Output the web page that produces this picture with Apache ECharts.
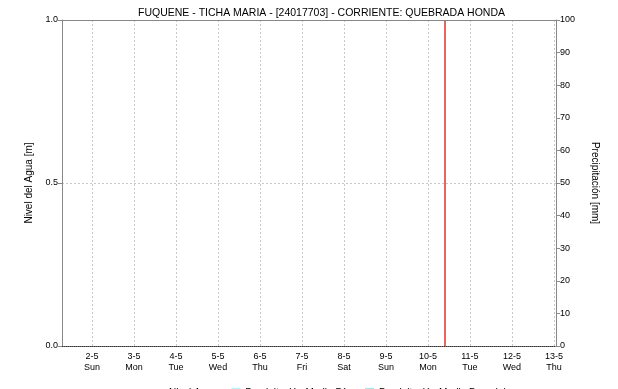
<!DOCTYPE html>
<html><head><meta charset="utf-8">
<script src="https://cdn.jsdelivr.net/npm/echarts@6/dist/echarts.min.js"></script>
<style>html,body{margin:0;padding:0;background:#fff}#c{width:618px;height:389px}</style>
</head><body><div id="c"></div>
<script>
var title = 'FUQUENE - TICHA MARIA - [24017703] - CORRIENTE: QUEBRADA HONDA';
var dayNames = ['Sun','Mon','Tue','Wed','Thu','Fri','Sat'];
// x values: days since 2021-05-01 00:00
var baseDate = [2021, 4, 1];
var xMin = 0.286;
var xMax = 12.05;
var dayTicks = [1, 2, 3, 4, 5, 6, 7, 8, 9, 10, 11, 12];
var markerDay = 9.405;
var nivelAgua = [];
var precipDia = [];
var precipDecadal = [];
var leftTicks = [0, 0.5, 1];
var rightTicks = [0, 10, 20, 30, 40, 50, 60, 70, 80, 90, 100];
var font = 'Liberation Sans';
var chart = echarts.init(document.getElementById('c'));
chart.setOption({
  animation:false,
  title:{text:title,left:133,top:3,textStyle:{fontFamily:font,fontSize:10.5,fontWeight:'normal',color:'#000'}},
  legend:{top:383,left:150,itemWidth:9,itemHeight:9,itemGap:14,textStyle:{fontFamily:font,fontSize:10,color:'#000'},
    data:[{name:'Nivel Agua',icon:'path://M0,4h10v1h-10z'},{name:'Precipitación Media Día',icon:'rect'},{name:'Precipitación Media Decadal',icon:'rect'}]},
  grid:{left:62,right:62,top:20,bottom:43},
  xAxis:{type:'value',min:xMin,max:xMax,
    axisLine:{show:true,lineStyle:{color:'#333',type:[1,1],width:1}},
    axisTick:{show:false,customValues:dayTicks},
    axisLabel:{fontFamily:font,fontSize:9,color:'#000',lineHeight:11,margin:5,customValues:dayTicks,
      formatter:function(v){var t=new Date(baseDate[0],baseDate[1],baseDate[2]+Math.round(v));return t.getDate()+'-'+(t.getMonth()+1)+'\n'+dayNames[t.getDay()];}},
    splitLine:{show:true,lineStyle:{color:'#c8c8c8',type:[2,2]}}},
  yAxis:[
    {type:'value',min:leftTicks[0],max:leftTicks[leftTicks.length-1],interval:0.5,name:'Nivel del Agua [m]',nameLocation:'middle',nameGap:22,
     nameTextStyle:{fontFamily:font,fontSize:10,color:'#000'},
     axisLine:{show:true,lineStyle:{color:'#888'}},axisTick:{show:true,length:4,lineStyle:{color:'#888'}},
     axisLabel:{fontFamily:font,fontSize:9,color:'#000',margin:4,formatter:function(v){return v.toFixed(1);}},
     splitLine:{show:true,lineStyle:{color:'#c8c8c8',type:[2,2]}}},
    {type:'value',min:rightTicks[0],max:rightTicks[rightTicks.length-1],interval:10,name:'Precipitación [mm]',nameLocation:'middle',nameGap:34,nameRotate:-90,
     nameTextStyle:{fontFamily:font,fontSize:10,color:'#000'},
     axisLine:{show:true,lineStyle:{color:'#888'}},axisTick:{show:true,length:4,lineStyle:{color:'#888'}},
     axisLabel:{fontFamily:font,fontSize:9,color:'#000',margin:4},
     splitLine:{show:false}}
  ],
  series:[
    {name:'Nivel Agua',type:'line',yAxisIndex:0,data:nivelAgua,itemStyle:{color:'#1f3a93'},lineStyle:{color:'#1f3a93'},
     markLine:{silent:true,symbol:['none','none'],label:{show:false},lineStyle:{color:'#e0302a',type:'solid',width:1.5},
       data:[{xAxis:markerDay}]}},
    {name:'Precipitación Media Día',type:'bar',yAxisIndex:1,data:precipDia,itemStyle:{color:'#5ff0ff'}},
    {name:'Precipitación Media Decadal',type:'bar',yAxisIndex:1,data:precipDecadal,itemStyle:{color:'#40c8c8'}},
    {type:'line',data:[],markLine:{silent:true,symbol:['none','none'],label:{show:false},lineStyle:{color:'#888',type:'solid',width:1},data:[{yAxis:1}]}}
  ]
});
</script></body></html>
